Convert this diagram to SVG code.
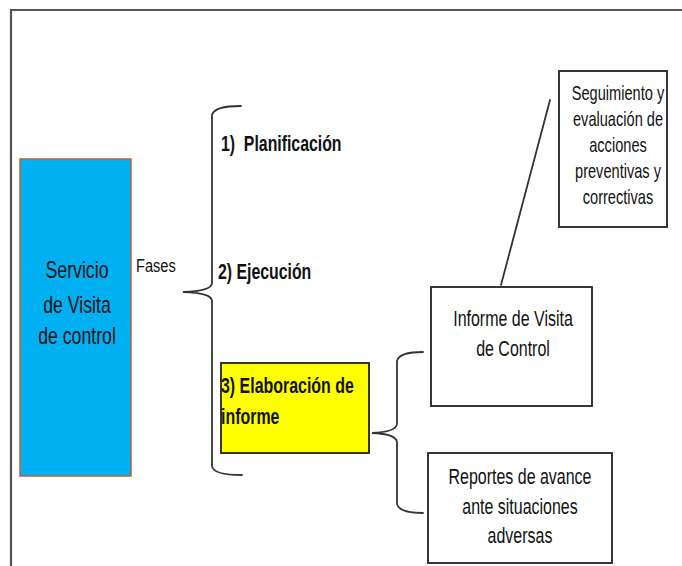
<svg xmlns="http://www.w3.org/2000/svg" width="682" height="566" viewBox="0 0 682 566">
<style>
text{font-family:"Liberation Sans",Arial,sans-serif;fill:#111}
.box{fill:#fff;stroke:#222;stroke-width:1.8}
.brace{fill:none;stroke:#333;stroke-width:1.8;stroke-linecap:round}
.mid{text-anchor:middle}
.b{font-weight:bold}
</style>
<rect x="0" y="0" width="682" height="566" fill="#fff"/>
<path d="M11,566 L11,10 L682,10" fill="none" stroke="#555" stroke-width="2.2"/>
<g id="servicio">
<rect x="20" y="159" width="111" height="317" fill="#00B0F0" stroke="#C0603A" stroke-width="1.5"/>
<text class="mid" transform="translate(77,278) scale(0.77,1)" font-size="23">Servicio</text>
<text class="mid" transform="translate(77,313) scale(0.77,1)" font-size="23">de Visita</text>
<text class="mid" transform="translate(77,344) scale(0.77,1)" font-size="23">de control</text>
</g>
<g id="fases-label">
<text transform="translate(136,272) scale(0.79,1)" font-size="18.5">Fases</text>
</g>
<g id="fase1">
<text class="b" transform="translate(221,151) scale(0.72,1)" font-size="22" xml:space="preserve">1)  Planificación</text>
</g>
<g id="fase2">
<text class="b" transform="translate(218,279) scale(0.72,1)" font-size="22">2) Ejecución</text>
</g>
<g id="fase3">
<rect x="221" y="363" width="148" height="90" fill="#FFFF00" stroke="#222" stroke-width="1.8"/>
<text class="b" transform="translate(221,393) scale(0.725,1)" font-size="22">3) Elaboración de</text>
<text class="b" transform="translate(221,424) scale(0.725,1)" font-size="22">informe</text>
</g>
<g id="informe">
<rect class="box" x="431" y="287" width="161" height="119"/>
<text class="mid" transform="translate(513,326) scale(0.727,1)" font-size="22">Informe de Visita</text>
<text class="mid" transform="translate(513,356) scale(0.727,1)" font-size="22">de Control</text>
</g>
<g id="reportes">
<rect class="box" x="428" y="453" width="184" height="110"/>
<text class="mid" transform="translate(520,484) scale(0.726,1)" font-size="22">Reportes de avance</text>
<text class="mid" transform="translate(520,514) scale(0.726,1)" font-size="22">ante situaciones</text>
<text class="mid" transform="translate(520,543) scale(0.726,1)" font-size="22">adversas</text>
</g>
<g id="seguimiento">
<rect class="box" x="559" y="71" width="108" height="156"/>
<text class="mid" transform="translate(618,100) scale(0.73,1)" font-size="20">Seguimiento y</text>
<text class="mid" transform="translate(618,126) scale(0.73,1)" font-size="20">evaluación de</text>
<text class="mid" transform="translate(618,152) scale(0.73,1)" font-size="20">acciones</text>
<text class="mid" transform="translate(618,178) scale(0.73,1)" font-size="20">preventivas y</text>
<text class="mid" transform="translate(618,204) scale(0.73,1)" font-size="20">correctivas</text>
</g>
<g id="connectors">
<path class="brace" d="M241,106 Q214,106 212,115 L212,283 Q212,291 183,292 Q212,293 212,301 L212,466 Q213,475 242,475"/>
<path class="brace" d="M423,352 Q399,352 397,361 L397,424 Q396,432 372,433 Q396,434 397,442 L397,504 Q399,513 423,513"/>
<line class="brace" x1="550" y1="100" x2="501" y2="285"/>
</g>
</svg>
